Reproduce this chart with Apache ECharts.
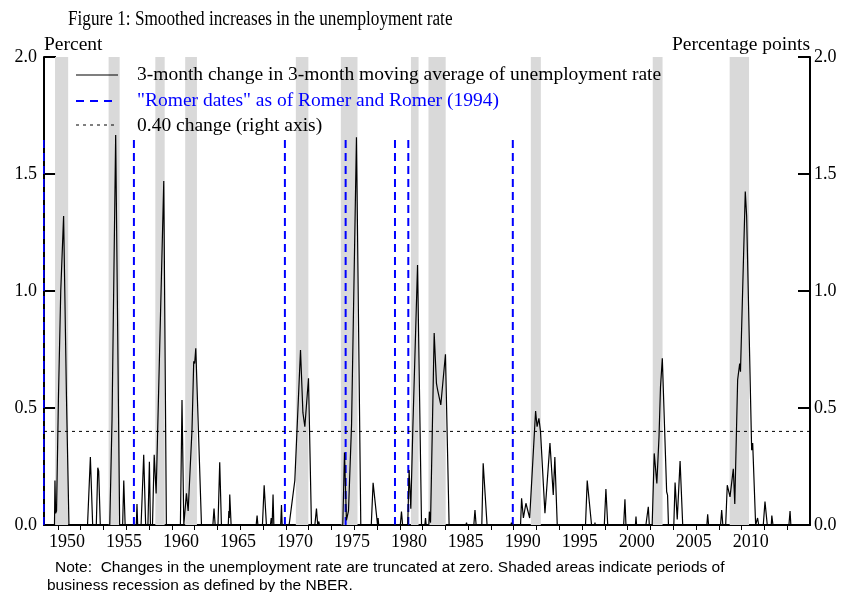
<!DOCTYPE html>
<html>
<head>
<meta charset="utf-8">
<script src="https://cdn.jsdelivr.net/npm/echarts@6/dist/echarts.min.js"></script>
<style>
html,body{margin:0;padding:0;background:#fff;}
#chart{width:849px;height:592px;}
</style>
</head>
<body>
<div id="chart"></div>
<script>
// ---- Data (decimal years, values in percentage points) ----
const months = [
  1948.70,1948.74,1948.80,1948.88,1949.05,1949.25,1949.50,1949.75,1949.97,
  1951.60,1951.85,1952.05,
  1952.37,1952.50,1952.58,1952.72,
  1953.55,1953.75,1954.07,1954.42,
  1954.68,1954.78,1954.90,
  1955.88,1955.94,1956.00,
  1956.30,1956.53,1956.70,
  1956.90,1957.03,1957.12,
  1957.30,1957.45,1957.62,1958.29,1958.52,
  1959.75,1959.89,1960.05,
  1960.22,1960.28,1960.43,1960.77,1960.92,1961.00,1961.10,1961.60,
  1962.60,1962.70,1962.80,
  1963.05,1963.20,1963.35,
  1963.95,1964.00,1964.04,1964.08,1964.20,
  1966.40,1966.48,1966.55,
  1966.95,1967.10,1967.30,
  1967.65,1967.72,1967.80,1967.88,1967.95,
  1968.55,1968.62,1968.68,
  1969.29,1969.79,1970.29,1970.50,1970.67,1970.99,1971.25,
  1971.55,1971.69,1971.80,1971.90,1971.95,
  1974.00,1974.15,1974.32,1974.50,1974.77,1975.20,1975.58,
  1976.50,1976.66,1977.05,1977.10,1977.15,
  1979.05,1979.15,1979.25,
  1979.70,1979.82,1979.97,1980.15,1980.56,1980.91,
  1981.20,1981.26,1981.32,
  1981.55,1981.60,1981.70,1982.02,1982.22,1982.32,1982.42,1982.60,1982.70,1983.01,1983.33,
  1984.80,1984.86,1984.90,
  1985.50,1985.60,1985.70,
  1986.20,1986.32,1986.66,
  1988.75,1988.80,1988.85,
  1989.60,1989.69,1989.85,1990.07,1990.40,1990.92,1991.05,1991.21,1991.35,1991.74,1992.18,1992.47,1992.61,1992.82,
  1995.30,1995.45,1995.83,1996.10,1996.13,1996.16,
  1996.95,1997.09,1997.25,
  1998.65,1998.76,1998.85,
  1999.68,1999.73,1999.78,
  2000.60,2000.81,2000.90,2001.15,2001.33,2001.56,2001.75,2001.88,2002.04,2002.42,2002.50,2002.58,
  2003.05,2003.16,2003.35,2003.60,2003.83,
  2005.95,2006.02,2006.10,
  2007.15,2007.25,2007.35,
  2007.60,2007.74,2007.98,2008.27,2008.40,2008.65,2008.83,2008.90,2009.32,2009.44,2009.88,2009.97,2010.23,
  2010.40,2010.50,
  2010.90,2011.05,2011.25,2011.60,2011.65,2011.75,
  2013.15,2013.25,2013.32
];
const changes = [
  0,0.19,0.05,0.06,0.55,1.00,1.32,0.55,0,
  0,0.29,0,
  0,0.245,0.23,0,
  0,0.45,1.667,0,
  0,0.19,0,
  0,0.09,0,
  0,0.30,0,
  0,0.27,0,
  0,0.30,0.135,1.47,0,
  0,0.534,0,
  0,0.135,0.06,0.41,0.70,0.69,0.755,0,
  0,0.07,0,
  0,0.268,0,
  0,0.06,0.03,0.13,0,
  0,0.04,0,
  0,0.17,0,
  0,0.03,0,0.13,0,
  0,0.085,0,
  0,0.19,0.748,0.48,0.42,0.627,0,
  0,0.07,0,0.015,0,
  0,0.31,0.02,0.06,0.43,1.657,0,
  0,0.18,0,0.03,0,
  0,0.057,0,
  0,0.235,0.07,0.42,1.111,0,
  0,0.03,0,
  0,0.057,0.01,0.82,0.605,0.577,0.57,0.513,0.513,0.73,0,
  0,0.01,0,
  0,0.064,0,
  0,0.264,0,
  0,0.01,0,
  0,0.114,0.03,0.093,0.03,0.487,0.42,0.456,0.40,0.05,0.35,0.128,0.29,0,
  0,0.19,0,0,0.01,0,
  0,0.154,0,
  0,0.11,0,
  0,0.036,0,
  0,0.078,0,0,0.306,0.178,0.377,0.59,0.712,0.142,0.128,0,
  0,0.182,0.024,0.273,0,
  0,0.046,0,
  0,0.064,0,
  0,0.17,0.12,0.24,0.09,0.62,0.69,0.655,1.425,1.32,0.32,0.35,0,
  0.03,0,
  0,0.10,0,0,0.04,0,
  0,0.06,0
];
// Romer and Romer (1994) dates
const romerDates = [1947.75, 1955.67, 1968.92, 1974.25, 1978.58, 1979.75, 1988.92];
const romerTop = 1.66;
// NBER recessions [start, end]
const recessionStart = [1948.75,1953.45,1957.55,1960.17,1969.88,1973.83,1979.98,1981.52,1990.50,2001.20,2007.95];
const recessionEnd   = [1949.90,1954.42,1958.37,1961.20,1970.98,1975.29,1980.65,1983.03,1991.38,2002.06,2009.65];
const thresholdValue = 0.40;
const xMin = 1947.78, xMax = 2015.0;
const tickYears = [1949,1951,1953,1955,1957,1959,1961,1963,1965,1967,1969,1971,1973,1975,1977,1979,1981,1983,1985,1987,1989,1991,1993,1995,1997,1999,2001,2003,2005,2007,2009,2011,2013];
const labelYears = [1950,1955,1960,1965,1970,1975,1980,1985,1990,1995,2000,2005,2010];
const labelOffset = -0.2;

const serif = "'Liberation Serif','Times New Roman',serif";
const narrow = "'Liberation Sans Narrow','Arial Narrow','Liberation Sans',sans-serif";

const chart = echarts.init(document.getElementById('chart'), null, {renderer:'canvas'});

const lineData = months.map((m,i)=>[m, changes[i]]);
const recessionAreas = recessionStart.map((s,i)=>[{xAxis:s},{xAxis:recessionEnd[i]}]);

const series = [];
series.push({
  type:'line', data:[], silent:true, z:1,
  markArea:{ silent:true, itemStyle:{color:'#d9d9d9', opacity:1}, data: recessionAreas, label:{show:false} }
});
romerDates.forEach(d=>{
  series.push({
    type:'line', data:[[d,0],[d,romerTop]], symbol:'none', clip:false, silent:true, z:3,
    lineStyle:{color:'#0000ff', width:2, type:[8,5]}
  });
});
series.push({
  type:'line', yAxisIndex:1, data:[[xMin,thresholdValue],[xMax,thresholdValue]], symbol:'none', silent:true, z:3,
  lineStyle:{color:'#000', width:1, type:[3,4]}
});
series.push({
  type:'line', data: lineData, symbol:'none', silent:true, z:4,
  lineStyle:{color:'#000', width:1.2}
});

const yAxisBase = (pos)=>({
  type:'value', position:pos, min:0, max:2, interval:0.5,
  axisLine:{show:true, lineStyle:{color:'#000', width:2}},
  axisTick:{show:true, inside:true, length:12, lineStyle:{color:'#000', width:2}},
  axisLabel:{color:'#000', fontFamily:serif, fontSize:18, margin:pos==='right'?4:7, formatter:v=>v.toFixed(1)},
  splitLine:{show:false}
});

chart.setOption({
  animation:false,
  grid:{left:44, right:39, top:57, bottom:67, containLabel:false},
  xAxis:{
    type:'value', min:xMin, max:xMax,
    axisLine:{show:true, onZero:false, lineStyle:{color:'#000', width:2}},
    axisTick:{show:true, inside:false, length:5, customValues: tickYears, lineStyle:{color:'#000', width:1}},
    axisLabel:{show:true, color:'#000', fontFamily:serif, fontSize:18, margin:8,
      customValues: labelYears.map(y=>y+labelOffset), formatter:v=>String(Math.round(v-labelOffset))},
    splitLine:{show:false}
  },
  yAxis:[yAxisBase('left'), yAxisBase('right')],
  series: series,
  graphic:[
    {type:'text', z:100, x:68, y:20, scaleX:0.86, style:{text:'Figure 1: Smoothed increases in the unemployment rate', font:'20px '+serif, fill:'#000', verticalAlign:'middle'}},
    {type:'text', z:100, x:44, y:45, style:{text:'Percent', font:'19.5px '+serif, fill:'#000', verticalAlign:'middle'}},
    {type:'text', z:100, x:810, y:45, style:{text:'Percentage points', font:'19.5px '+serif, fill:'#000', verticalAlign:'middle', align:'right'}},
    {type:'line', z:100, shape:{x1:76,y1:75,x2:118,y2:75}, style:{stroke:'#000', lineWidth:1.2}},
    {type:'text', z:100, x:137, y:75, style:{text:'3-month change in 3-month moving average of unemployment rate', font:'19.5px '+serif, fill:'#000', verticalAlign:'middle'}},
    {type:'line', z:100, shape:{x1:76,y1:101,x2:118,y2:101}, style:{stroke:'#0000ff', lineWidth:2, lineDash:[8,6]}},
    {type:'text', z:100, x:137, y:101, style:{text:'"Romer dates" as of Romer and Romer (1994)', font:'19.5px '+serif, fill:'#0000ff', verticalAlign:'middle'}},
    {type:'line', z:100, shape:{x1:76,y1:125,x2:118,y2:125}, style:{stroke:'#000', lineWidth:1, lineDash:[3,4]}},
    {type:'text', z:100, x:137, y:126, style:{text:'0.40 change (right axis)', font:'19.5px '+serif, fill:'#000', verticalAlign:'middle'}},
    {type:'text', z:100, x:55, y:568, style:{text:'Note:  Changes in the unemployment rate are truncated at zero. Shaded areas indicate periods of', font:'15.5px '+narrow, fill:'#000', verticalAlign:'middle'}},
    {type:'text', z:100, x:47, y:586, style:{text:'business recession as defined by the NBER.', font:'15.5px '+narrow, fill:'#000', verticalAlign:'middle'}}
  ]
});
</script>
</body>
</html>
